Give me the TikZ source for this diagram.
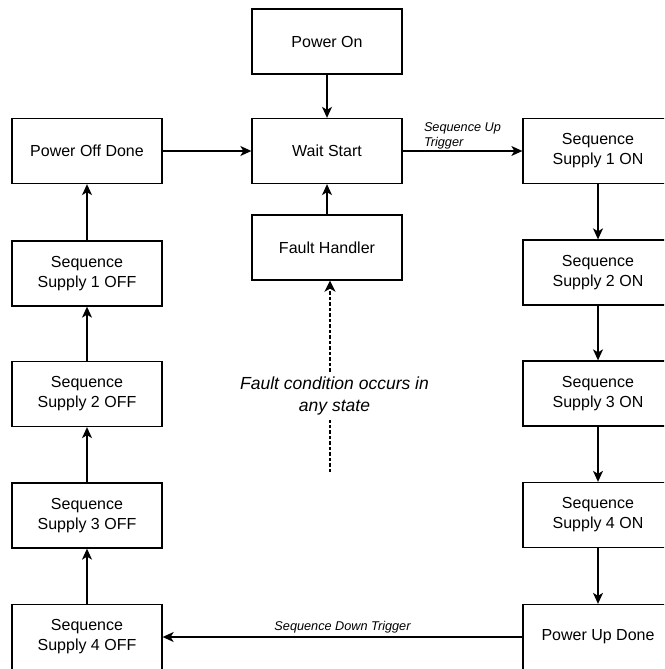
\documentclass[tikz,border=0pt]{standalone}
\usepackage{fontspec}
\setmainfont{Liberation Sans}
\usetikzlibrary{arrows.meta,positioning,calc}
\definecolor{ink}{RGB}{0,0,0}
\tikzset{
  state/.style={draw=ink, line width=1.3pt, minimum width=150pt, minimum height=65pt, align=center, inner sep=2pt, font=\fontsize{16}{20}\selectfont},
  flow/.style={-{Stealth[length=11pt,width=10pt,inset=3pt]}, line width=1.3pt, draw=ink},
  faultline/.style={draw=ink, line width=2pt, dash pattern=on 3.5pt off 2pt},
  faultflow/.style={faultline, -{Stealth[length=11pt,width=11pt,inset=3pt]}},
  trigger/.style={font=\fontsize{12.7}{14.5}\selectfont\itshape, align=left, inner sep=1.5pt},
  note/.style={font=\fontsize{17.5}{22}\selectfont\itshape, align=center, inner sep=5pt}
}
\begin{document}
\begin{tikzpicture}[x=1pt,y=-1pt]
  \useasboundingbox (0,0) rectangle (664,669);
  \clip (0,0) rectangle (664,669);
  % centre column
  \node[state] (poweron) at (327,41.5) {Power On};
  \node[state] (waitstart) at (327,151) {Wait Start};
  \node[state] (fault) at (327,247.5) {Fault Handler};
  % left column: power down sequence
  \node[state] (poweroffdone) at (87,151) {Power Off Done};
  \foreach \i/\y in {1/273.5,2/394,3/515.5,4/637}
    \node[state] (off\i) at (87,\y) {Sequence\\Supply \i\ OFF};
  % right column: power up sequence
  \foreach \i/\y in {1/151,2/272.5,3/393.5,4/515}
    \node[state] (on\i) at (598,\y) {Sequence\\Supply \i\ ON};
  \node[state] (powerupdone) at (598,637) {Power Up Done};
  % transitions
  \draw[flow] (poweron) -- (waitstart);
  \draw[flow] (fault) -- (waitstart);
  \draw[flow] (poweroffdone) -- (waitstart);
  \draw[flow] (waitstart) -- node[trigger,above]{Sequence Up\\Trigger} (on1);
  \foreach \a/\b in {on1/on2,on2/on3,on3/on4,on4/powerupdone}
    \draw[flow] (\a) -- (\b);
  \draw[flow] (powerupdone) -- node[trigger,above=2pt]{Sequence Down Trigger} (off4);
  \foreach \a/\b in {off4/off3,off3/off2,off2/off1,off1/poweroffdone}
    \draw[flow] (\a) -- (\b);
  % fault from anywhere
  \coordinate (faultsrc) at (330,472);
  \node[note] (faultnote) at (334.5,396) {Fault condition occurs in\\any state};
  \draw[faultline] (faultsrc) -- (faultsrc |- faultnote.south);
  \draw[faultflow] (faultsrc |- faultnote.north) -- (fault.south -| faultsrc);
\end{tikzpicture}
\end{document}
